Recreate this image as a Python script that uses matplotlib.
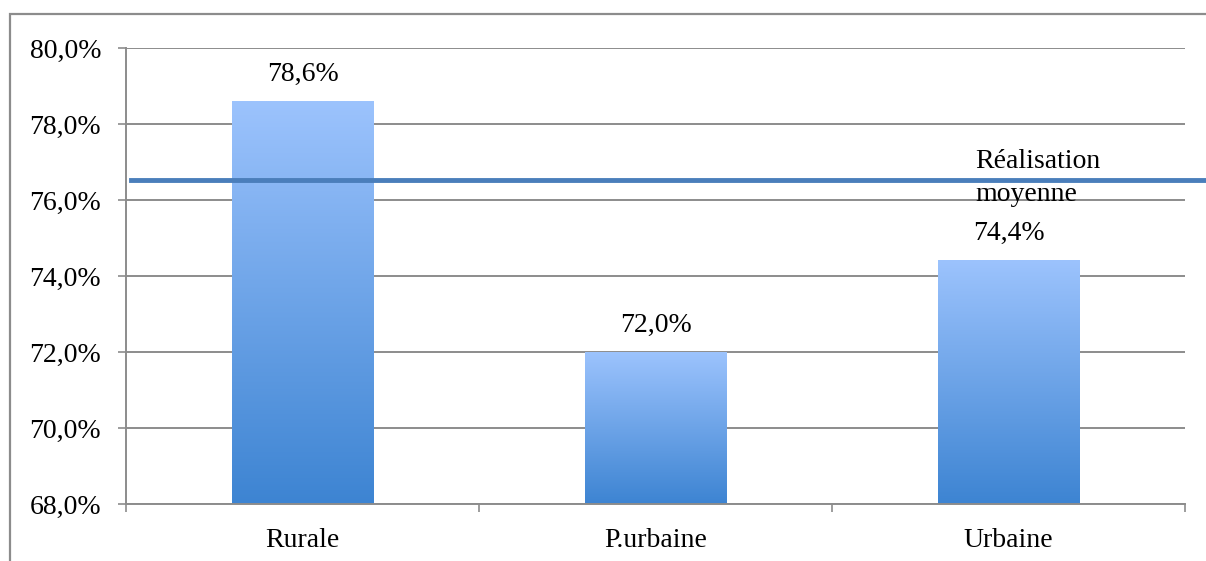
import numpy as np
import matplotlib
matplotlib.use("Agg")
import matplotlib.pyplot as plt
from matplotlib.colors import LinearSegmentedColormap
from matplotlib.patches import Rectangle

categories = ["Rurale", "P.urbaine", "Urbaine"]
values = [78.6, 72.0, 74.4]
moyenne = 76.53
yticks = [68, 70, 72, 74, 76, 78, 80]

plt.rcParams['font.family'] = ['Liberation Serif', 'DejaVu Serif']

fig = plt.figure(figsize=(12.06, 5.61), dpi=100)
ax = fig.add_axes([0.1045, 0.1016, 0.8781, 0.8128])

# cadre gris autour du graphique
fig.patches.append(Rectangle((10 / 1206, -0.5), 2, 0.5 + 1 - 14 / 561,
                             transform=fig.transFigure, fill=False,
                             edgecolor='#8c8c8c', linewidth=1.6, zorder=0))

cmap = LinearSegmentedColormap.from_list("bleu", ["#3d84d2", "#9cc3fd"])
grad = np.linspace(0, 1, 256).reshape(-1, 1)
width = 0.4
ymin = 68
for i, v in enumerate(values):
    ax.imshow(grad, extent=[i - width / 2, i + width / 2, ymin, v], origin='lower',
              aspect='auto', cmap=cmap, zorder=2)
    ax.text(i, v + 0.38, f"{v:.1f}%".replace(".", ","), ha='center', va='bottom',
            fontsize=20, color='black')

ax.set_xlim(-0.5, len(categories) - 0.5)
ax.set_ylim(68, 80)

ax.plot([-0.485, 2.565], [moyenne, moyenne], color='#4a7ebb', linewidth=3.5,
        clip_on=False, zorder=4)
ax.text(1.905, moyenne + 0.05, "Réalisation\nmoyenne", ha='left', va='center',
        fontsize=20, linespacing=1.4, zorder=1)

ax.set_yticks(yticks)
ax.set_yticklabels([f"{t:.1f}%".replace(".", ",") for t in yticks], fontsize=20)
ax.set_xticks(range(len(categories)))
ax.set_xticklabels(categories, fontsize=20)
ax.set_xticks([-0.5, 0.5, 1.5, 2.5], minor=True)
ax.tick_params(axis='x', which='major', length=0, pad=17)
ax.tick_params(axis='x', which='minor', length=6, color='#8c8c8c', width=1.2)
ax.tick_params(axis='y', length=6, color='#8c8c8c', width=1.2, pad=12)

ax.yaxis.grid(True, color='#8c8c8c', linewidth=1.4, zorder=0)
ax.set_axisbelow(True)
for s in ['top', 'right']:
    ax.spines[s].set_visible(False)
for s in ['left', 'bottom']:
    ax.spines[s].set_color('#8c8c8c')
    ax.spines[s].set_linewidth(1.4)

fig.savefig("out.png", dpi=100)
